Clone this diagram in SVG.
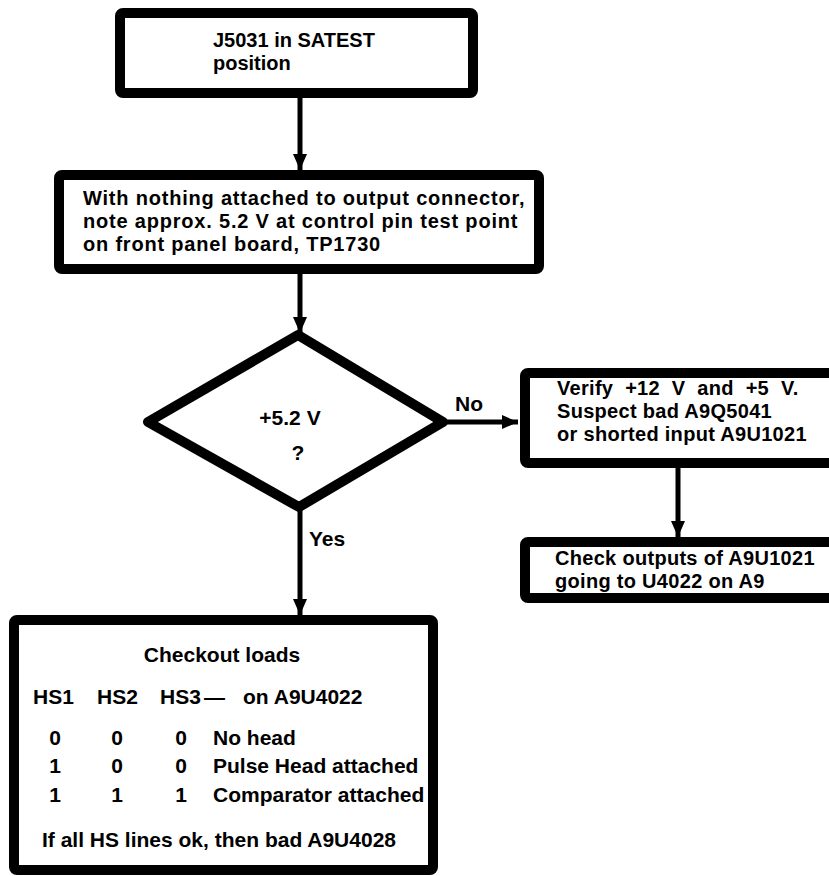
<svg xmlns="http://www.w3.org/2000/svg" width="829" height="876" viewBox="0 0 829 876">
<style>
.box{fill:#fff;stroke:#000;stroke-width:10;stroke-linejoin:round}
.t{font-family:"Liberation Sans",Arial,Helvetica,sans-serif;font-weight:bold;font-size:21px;fill:#000}
.s{font-size:20px}
.w{letter-spacing:0.8px}
.c{fill:none;stroke:#000;stroke-width:5}
.m{text-anchor:middle}
</style>
<defs>
<marker id="ah" viewBox="0 0 16 14" refX="16" refY="7" markerWidth="16" markerHeight="14" markerUnits="userSpaceOnUse" orient="auto">
<path d="M0,0 L16,7 L0,14 Z" fill="#000"/>
</marker>
</defs>
<rect width="829" height="876" fill="#fff"/>
<g id="connectors">
<line class="c" x1="300" y1="98" x2="300" y2="170" marker-end="url(#ah)"/>
<line class="c" x1="300" y1="274" x2="300" y2="333" marker-end="url(#ah)"/>
<line class="c" x1="443" y1="422" x2="518" y2="422" marker-end="url(#ah)"/>
<line class="c" x1="678" y1="468" x2="678" y2="537" marker-end="url(#ah)"/>
<line class="c" x1="300" y1="507" x2="300" y2="615" marker-end="url(#ah)"/>
<text class="t" x="455" y="411">No</text>
<text class="t" x="309" y="546">Yes</text>
</g>
<g id="start">
<rect class="box" x="120" y="13" width="353" height="80" rx="3"/>
<text class="t s" x="213" y="47">J5031 in SATEST</text>
<text class="t s" x="213" y="70">position</text>
</g>
<g id="measure">
<rect class="box" x="59" y="175" width="480" height="94" rx="3"/>
<text class="t s w" x="83" y="205">With nothing attached to output connector,</text>
<text class="t s w" x="83" y="228">note approx. 5.2 V at control pin test point</text>
<text class="t s w" x="83" y="251">on front panel board, TP1730</text>
</g>
<g id="decision">
<polygon class="box" points="298,335 443,422 299,507 148,422"/>
<text class="t m" x="290" y="425">+5.2 V</text>
<text class="t m" x="298" y="460">?</text>
</g>
<g id="verify">
<rect class="box" x="525" y="373" width="320" height="90" rx="3"/>
<text class="t s" x="557" y="395" style="word-spacing:6px;letter-spacing:0.3px">Verify +12 V and +5 V.</text>
<text class="t s" x="557" y="418" style="letter-spacing:0.3px">Suspect bad A9Q5041</text>
<text class="t s" x="557" y="441" style="letter-spacing:0.3px">or shorted input A9U1021</text>
</g>
<g id="check">
<rect class="box" x="525" y="542" width="320" height="56" rx="3"/>
<text class="t s" x="555" y="565" style="letter-spacing:0.3px">Check outputs of A9U1021</text>
<text class="t s" x="555" y="588" style="letter-spacing:0.3px">going to U4022 on A9</text>
</g>
<g id="loads">
<rect class="box" x="14" y="620" width="419" height="250" rx="3"/>
<text class="t m" x="222" y="662">Checkout loads</text>
<text class="t" x="33" y="704">HS1</text>
<text class="t" x="97" y="704">HS2</text>
<text class="t" x="160" y="704">HS3</text>
<text class="t" x="204" y="704">—</text>
<text class="t" x="243" y="704">on A9U4022</text>
<text class="t m" x="55" y="745">0</text>
<text class="t m" x="117" y="745">0</text>
<text class="t m" x="181" y="745">0</text>
<text class="t" x="213" y="745">No head</text>
<text class="t m" x="55" y="773">1</text>
<text class="t m" x="117" y="773">0</text>
<text class="t m" x="181" y="773">0</text>
<text class="t" x="213" y="773">Pulse Head attached</text>
<text class="t m" x="55" y="802">1</text>
<text class="t m" x="117" y="802">1</text>
<text class="t m" x="181" y="802">1</text>
<text class="t" x="213" y="802">Comparator attached</text>
<text class="t" x="42" y="847">If all HS lines ok, then bad A9U4028</text>
</g>
</svg>
